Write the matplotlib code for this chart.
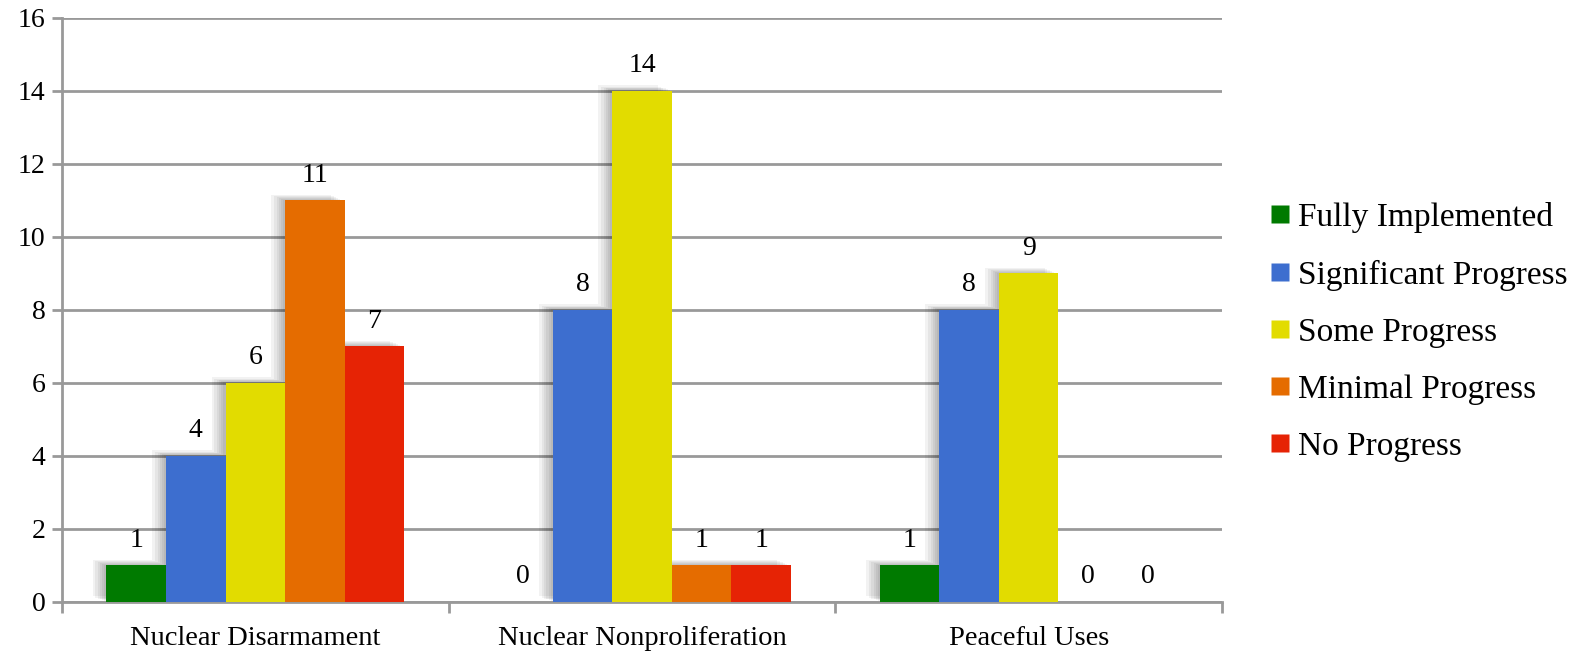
import numpy as np
import matplotlib
matplotlib.use("Agg")
import matplotlib.pyplot as plt
import matplotlib.patheffects as pe
from matplotlib.lines import Line2D

plt.rcParams['font.family'] = ['Liberation Serif', 'DejaVu Serif']

categories = ['Nuclear Disarmament', 'Nuclear Nonproliferation', 'Peaceful Uses']
series = ['Fully Implemented', 'Significant Progress', 'Some Progress',
          'Minimal Progress', 'No Progress']
values = {
    'Fully Implemented': [1, 0, 1],
    'Significant Progress': [4, 8, 8],
    'Some Progress': [6, 14, 9],
    'Minimal Progress': [11, 1, 0],
    'No Progress': [7, 1, 0],
}
colors = ['#007a00', '#3d6ecf', '#e2dc00', '#e56c00', '#e62305']
y_ticks = [0, 2, 4, 6, 8, 10, 12, 14, 16]

####################################################
fig = plt.figure(figsize=(15.78, 6.52), dpi=100)
ax = fig.add_axes([0.0393, 0.0767, 0.7351, 0.8957])

x = np.arange(len(categories))
group_w = 0.77
bar_w = group_w / len(series)

shadow = [pe.SimplePatchShadow(offset=(-d, d * 0.4), shadow_rgbFace='#000000', alpha=0.05)
          for d in (10, 8, 6, 4.5, 3, 1.5)] + [pe.Normal()]

for i, (name, col) in enumerate(zip(series, colors)):
    xs = x - group_w / 2 + bar_w * (i + 0.5)
    bars = ax.bar(xs, values[name], width=bar_w, color=col, label=name,
                  zorder=10 - i, path_effects=shadow)
    ax.bar_label(bars, padding=9, fontsize=20, zorder=20)

ax.set_xlim(-0.5, len(categories) - 0.5)
ax.set_ylim(0, 16)
ax.set_yticks(y_ticks)
ax.tick_params(axis='y', labelsize=20, length=7, width=2, color='#999999', pad=5)
ax.set_xticks(x)
ax.set_xticklabels(categories, fontsize=20.5)
ax.tick_params(axis='x', length=0, pad=17)
ax.set_xticks(np.arange(len(categories) + 1) - 0.5, minor=True)
ax.tick_params(axis='x', which='minor', length=8, width=2, color='#999999')

ax.yaxis.grid(True, color='#999999', linewidth=2)
ax.set_axisbelow(True)
for s in ['top', 'right']:
    ax.spines[s].set_visible(False)
for s in ['left', 'bottom']:
    ax.spines[s].set_color('#999999')
    ax.spines[s].set_linewidth(2)
    ax.spines[s].set_zorder(0.5)

handles = [Line2D([], [], marker='s', linestyle='none', markersize=13,
                  markerfacecolor=c, markeredgecolor='none') for c in colors]
fig.legend(handles, series, loc='upper left', bbox_to_anchor=(0.795, 0.716),
           frameon=False, fontsize=24, handlelength=0.5, handletextpad=0.3,
           labelspacing=0.8, borderpad=0)

fig.savefig('out.png', dpi=100)
